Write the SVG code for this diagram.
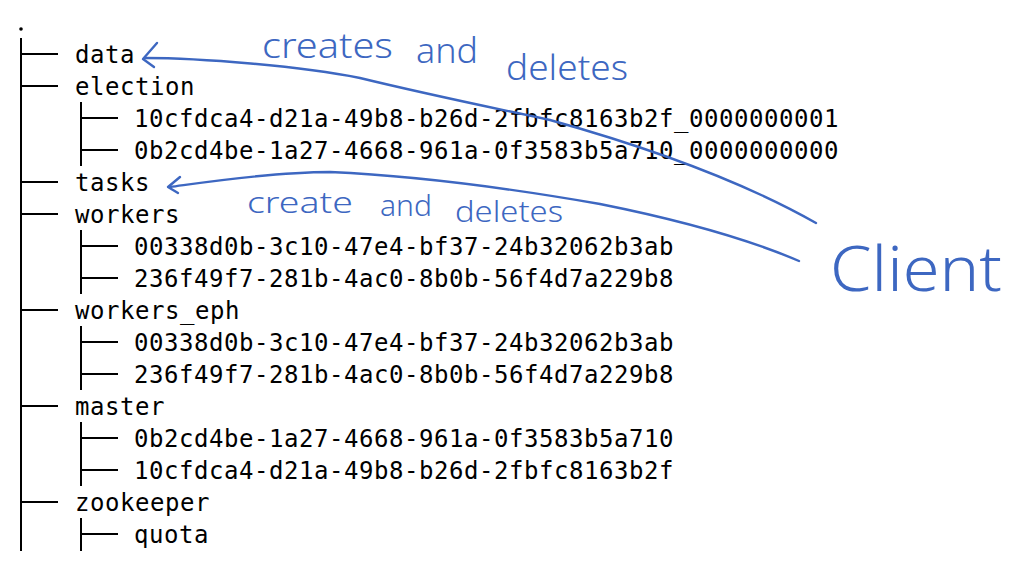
<svg xmlns="http://www.w3.org/2000/svg" width="1024" height="570" viewBox="0 0 1024 570">
<style>
.t{font-family:"DejaVu Sans Mono","Liberation Mono",monospace;font-size:24px;letter-spacing:0.55px;fill:#000}
.ln{stroke:#000;stroke-width:2;fill:none}
.hw{stroke:#3d67c1;stroke-width:2.4;fill:none;stroke-linecap:round;stroke-linejoin:round}
.ht{font-family:"Noto Sans","DejaVu Sans",sans-serif;fill:#3d67c1;font-weight:300}
</style>
<rect width="1024" height="570" fill="#fff"/>
<g id="tree-lines">
<circle cx="21" cy="29" r="1.8" fill="#000"/>
<path class="ln" d="M21,38V551 M21,54H58 M21,86H58 M21,182H58 M21,214H58 M21,310H58 M21,406H58 M21,502H58"/>
<path class="ln" d="M81,102V166 M81,118H118 M81,150H118"/>
<path class="ln" d="M81,230V294 M81,246H118 M81,278H118"/>
<path class="ln" d="M81,326V390 M81,342H118 M81,374H118"/>
<path class="ln" d="M81,422V486 M81,438H118 M81,470H118"/>
<path class="ln" d="M81,518V551 M81,534H118"/>
</g>
<g id="node-data"><text class="t" x="75" y="63">data</text></g>
<g id="node-election"><text class="t" x="75" y="95">election</text>
<text class="t" x="134" y="127">10cfdca4-d21a-49b8-b26d-2fbfc8163b2f_0000000001</text>
<text class="t" x="134" y="159">0b2cd4be-1a27-4668-961a-0f3583b5a710_0000000000</text></g>
<g id="node-tasks"><text class="t" x="75" y="191">tasks</text></g>
<g id="node-workers"><text class="t" x="75" y="223">workers</text>
<text class="t" x="134" y="255">00338d0b-3c10-47e4-bf37-24b32062b3ab</text>
<text class="t" x="134" y="287">236f49f7-281b-4ac0-8b0b-56f4d7a229b8</text></g>
<g id="node-workers_eph"><text class="t" x="75" y="319">workers_eph</text>
<text class="t" x="134" y="351">00338d0b-3c10-47e4-bf37-24b32062b3ab</text>
<text class="t" x="134" y="383">236f49f7-281b-4ac0-8b0b-56f4d7a229b8</text></g>
<g id="node-master"><text class="t" x="75" y="415">master</text>
<text class="t" x="134" y="447">0b2cd4be-1a27-4668-961a-0f3583b5a710</text>
<text class="t" x="134" y="479">10cfdca4-d21a-49b8-b26d-2fbfc8163b2f</text></g>
<g id="node-zookeeper"><text class="t" x="75" y="511">zookeeper</text>
<text class="t" x="134" y="543">quota</text></g>
<g id="node-client"><text class="ht" x="830" y="291" font-size="62" textLength="172" lengthAdjust="spacingAndGlyphs">Client</text></g>
<g id="connectors">
<path class="hw" d="M145,58 C200,58 300,66 360,78 C430,95 480,105 550,120 C640,145 740,180 816,223"/>
<path class="hw" d="M157,43 L143,59 L154,67"/>
<path class="hw" d="M170,187 C200,183 270,172 330,172 C420,176 520,190 600,204 C680,220 750,240 799,261"/>
<path class="hw" d="M180,177 L168,187 L178,193"/>
</g>
<g id="labels">
<text class="ht" x="262" y="58" font-size="34" textLength="131" lengthAdjust="spacingAndGlyphs">creates</text>
<text class="ht" x="416" y="63" font-size="34" textLength="62" lengthAdjust="spacingAndGlyphs">and</text>
<text class="ht" x="506" y="80" font-size="34" textLength="122" lengthAdjust="spacingAndGlyphs">deletes</text>
<text class="ht" x="247" y="213" font-size="30" textLength="106" lengthAdjust="spacingAndGlyphs">create</text>
<text class="ht" x="380" y="216" font-size="30" textLength="52" lengthAdjust="spacingAndGlyphs">and</text>
<text class="ht" x="455" y="222" font-size="30" textLength="108" lengthAdjust="spacingAndGlyphs">deletes</text>
</g>
</svg>
